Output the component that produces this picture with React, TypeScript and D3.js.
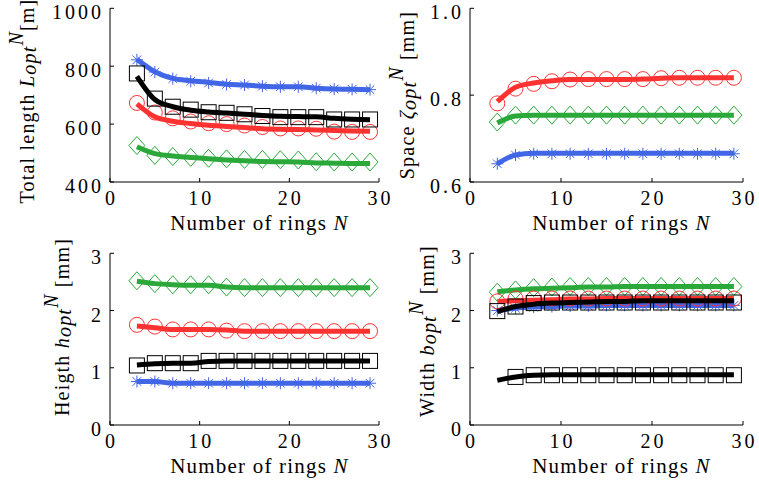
import React from 'react';
import * as d3 from 'd3';

// number of rings N at which the optimum was computed
const rings = [3, 5, 7, 9, 11, 13, 15, 17, 19, 21, 23, 25, 27, 29];

// total length L_opt^N [m]
const lenBlueLine = [824, 781, 758, 750, 744, 738, 735, 731, 729, 729, 724, 721, 720, 719];
const lenBlueMark = [822, 780, 757, 748, 742, 737, 735, 731, 729, 729, 724, 721, 720, 719];
const lenBlackLine = [765, 685, 660, 648, 642, 638, 634, 630, 627, 626, 625, 620, 617, 615];
const lenBlackMark = [775, 688, 660, 650, 641, 639, 634, 628, 624, 624, 624, 616, 616, 616];
const lenRedLine = [670, 625, 610, 602, 596, 592, 588, 584, 582, 581, 580, 578, 576, 575];
const lenRedMark = [673, 640, 620, 609, 603, 600, 595, 590, 585, 585, 584, 574, 573, 573];
const lenGreenLine = [522, 498, 490, 485, 480, 476, 473, 471, 470, 469, 466, 465, 464, 464];
const lenGreenMark = [526, 492, 488, 485, 482, 480, 478, 478, 477, 476, 470, 469, 469, 469];

// space zeta_opt^N [mm]
const spRedLine = [0.785, 0.818, 0.828, 0.833, 0.836, 0.836, 0.836, 0.836, 0.837, 0.839, 0.840, 0.840, 0.840, 0.840];
const spRedMark = [0.781, 0.815, 0.826, 0.832, 0.836, 0.837, 0.837, 0.837, 0.837, 0.839, 0.840, 0.840, 0.840, 0.840];
const spGreenLine = [0.736, 0.752, 0.754, 0.754, 0.754, 0.754, 0.754, 0.754, 0.754, 0.754, 0.754, 0.754, 0.754, 0.754];
const spGreenMark = [0.738, 0.754, 0.754, 0.754, 0.754, 0.754, 0.754, 0.754, 0.754, 0.754, 0.754, 0.754, 0.754, 0.754];
const spBlueLine = [0.642, 0.662, 0.666, 0.666, 0.666, 0.666, 0.666, 0.666, 0.666, 0.666, 0.666, 0.666, 0.666, 0.666];
const spBlueMark = [0.642, 0.662, 0.665, 0.665, 0.665, 0.665, 0.665, 0.665, 0.665, 0.665, 0.665, 0.665, 0.665, 0.665];

// height h_opt^N [mm]
const hGreenLine = [2.51, 2.47, 2.45, 2.44, 2.44, 2.41, 2.40, 2.40, 2.40, 2.40, 2.40, 2.40, 2.40, 2.40];
const hGreenMark = [2.52, 2.47, 2.45, 2.45, 2.45, 2.41, 2.40, 2.40, 2.40, 2.40, 2.40, 2.40, 2.40, 2.40];
const hRedLine = [1.73, 1.70, 1.67, 1.67, 1.67, 1.66, 1.64, 1.64, 1.64, 1.64, 1.64, 1.64, 1.64, 1.64];
const hRedMark = [1.75, 1.72, 1.67, 1.67, 1.67, 1.65, 1.64, 1.64, 1.64, 1.64, 1.64, 1.64, 1.64, 1.64];
const hBlackLine = [1.05, 1.07, 1.08, 1.08, 1.11, 1.12, 1.12, 1.12, 1.12, 1.12, 1.12, 1.12, 1.12, 1.12];
const hBlackMark = [1.04, 1.08, 1.08, 1.08, 1.12, 1.12, 1.12, 1.12, 1.12, 1.12, 1.12, 1.12, 1.12, 1.12];
const hBlueLine = [0.76, 0.76, 0.73, 0.73, 0.73, 0.73, 0.73, 0.73, 0.73, 0.73, 0.73, 0.73, 0.73, 0.73];
const hBlueMark = [0.76, 0.76, 0.73, 0.73, 0.73, 0.73, 0.73, 0.73, 0.73, 0.73, 0.73, 0.73, 0.73, 0.73];

// width b_opt^N [mm]
const wGreenLine = [2.33, 2.36, 2.38, 2.39, 2.40, 2.41, 2.41, 2.42, 2.42, 2.42, 2.42, 2.42, 2.42, 2.42];
const wGreenMark = [2.32, 2.36, 2.40, 2.41, 2.42, 2.42, 2.42, 2.42, 2.42, 2.42, 2.42, 2.42, 2.42, 2.42];
const wRedLine = [2.16, 2.17, 2.18, 2.19, 2.20, 2.20, 2.21, 2.21, 2.21, 2.21, 2.21, 2.21, 2.21, 2.21];
const wRedMark = [2.16, 2.21, 2.21, 2.21, 2.21, 2.21, 2.21, 2.21, 2.21, 2.21, 2.21, 2.21, 2.21, 2.21];
const wBlueLine = [2.00, 2.04, 2.06, 2.07, 2.08, 2.08, 2.09, 2.09, 2.09, 2.09, 2.09, 2.09, 2.09, 2.09];
const wBlueMark = [2.00, 2.04, 2.06, 2.07, 2.08, 2.08, 2.09, 2.09, 2.09, 2.09, 2.09, 2.09, 2.09, 2.09];
const wBlackLine = [1.98, 2.07, 2.11, 2.13, 2.14, 2.15, 2.16, 2.16, 2.17, 2.17, 2.17, 2.17, 2.17, 2.17];
const wBlackMark = [1.99, 2.07, 2.13, 2.14, 2.14, 2.14, 2.14, 2.14, 2.14, 2.14, 2.14, 2.14, 2.14, 2.14];
const wBlack2Line = [0.78, 0.84, 0.87, 0.88, 0.88, 0.88, 0.88, 0.88, 0.88, 0.88, 0.88, 0.88, 0.88, 0.88];
const wBlack2Mark = [null, 0.84, 0.87, 0.87, 0.87, 0.87, 0.87, 0.87, 0.87, 0.87, 0.87, 0.87, 0.87, 0.87];

const xTicks = [0, 10, 20, 30];

const BLUE = '#4166e6';
const RED = '#ff3232';
const GREEN = '#2aa83a';
const BLACK = '#000000';
const FONT = '"Liberation Serif", "Times New Roman", serif';

type Series = { color: string; marker: string; line: number[]; marks: (number | null)[] };

const Marker = ({ shape, x, y, color }) => {
  if (shape === 'square') {
    return <rect x={x - 7.5} y={y - 7.5} width={15} height={15} fill="none" stroke={color} strokeWidth={1} />;
  }
  if (shape === 'circle') {
    return <circle cx={x} cy={y} r={7.5} fill="none" stroke={color} strokeWidth={1} />;
  }
  if (shape === 'diamond') {
    return <path d={`M${x},${y - 9}L${x + 8},${y}L${x},${y + 9}L${x - 8},${y}Z`} fill="none" stroke={color} strokeWidth={1} />;
  }
  // asterisk
  const r = 6;
  const q = 4.3;
  return (
    <path
      d={`M${x - r},${y}H${x + r}M${x},${y - r}V${y + r}M${x - q},${y - q}L${x + q},${y + q}M${x - q},${y + q}L${x + q},${y - q}`}
      stroke={color}
      strokeWidth={1}
      fill="none"
    />
  );
};

const Panel = ({ left, right, top, bottom, domain, ticks, fmt, series, ylabel, ylabelX, ylabelY }) => {
  const x = d3.scaleLinear().domain([0, 30]).range([left, right]);
  const y = d3.scaleLinear().domain(domain).range([bottom, top]);
  const line = d3.line<number>()
    .x((d, i) => x(rings[i]))
    .y(d => y(d))
    .curve(d3.curveMonotoneX);
  const ls = 3;

  return (
    <g>
      {series.map((s: Series, k: number) => (
        <g key={k}>
          <path d={line(s.line) || ''} fill="none" stroke={s.color} strokeWidth={5} strokeLinejoin="round" />
          {s.marks.map((v, i) => v === null ? null : (
            <Marker key={i} shape={s.marker} x={x(rings[i])} y={y(v)} color={s.color} />
          ))}
        </g>
      ))}
      <line x1={left} x2={left} y1={top} y2={bottom} stroke="#000" strokeWidth={1} />
      <line x1={left} x2={right} y1={bottom} y2={bottom} stroke="#000" strokeWidth={1} />
      {ticks.map(t => (
        <g key={`y${t}`}>
          <line x1={left} x2={left + 4} y1={y(t)} y2={y(t)} stroke="#000" />
          <text x={left - 9 + ls} y={y(t) + 11} textAnchor="end" fontSize={20} letterSpacing={ls} fontFamily={FONT}>{fmt(t)}</text>
        </g>
      ))}
      {xTicks.map(t => (
        <g key={`x${t}`}>
          <line x1={x(t)} x2={x(t)} y1={bottom} y2={bottom - 4} stroke="#000" />
          <text x={x(t) + ls / 2} y={bottom + 23} textAnchor="middle" fontSize={20} letterSpacing={ls} fontFamily={FONT}>{t}</text>
        </g>
      ))}
      <text x={(left + right) / 2 + 15} y={bottom + 48} textAnchor="middle" fontSize={21} letterSpacing={1.2} fontFamily={FONT}>
        Number of rings <tspan fontStyle="italic">N</tspan>
      </text>
      <text transform={`translate(${ylabelX},${ylabelY}) rotate(-90)`} textAnchor="middle" fontSize={20} letterSpacing={1.2} fontFamily={FONT}>
        {ylabel[0]}
        <tspan fontStyle="italic">{ylabel[1]}</tspan>
        <tspan fontStyle="italic" dy={2}>opt</tspan>
        <tspan fontStyle="italic" dy={-13}>N</tspan>
        <tspan dy={11}>{ylabel[2]}</tspan>
      </text>
    </g>
  );
};

export default function App() {
  const lenSeries: Series[] = [
    { color: BLUE, marker: 'star', line: lenBlueLine, marks: lenBlueMark },
    { color: GREEN, marker: 'diamond', line: lenGreenLine, marks: lenGreenMark },
    { color: RED, marker: 'circle', line: lenRedLine, marks: lenRedMark },
    { color: BLACK, marker: 'square', line: lenBlackLine, marks: lenBlackMark },
  ];
  const spSeries: Series[] = [
    { color: BLUE, marker: 'star', line: spBlueLine, marks: spBlueMark },
    { color: GREEN, marker: 'diamond', line: spGreenLine, marks: spGreenMark },
    { color: RED, marker: 'circle', line: spRedLine, marks: spRedMark },
  ];
  const hSeries: Series[] = [
    { color: BLUE, marker: 'star', line: hBlueLine, marks: hBlueMark },
    { color: GREEN, marker: 'diamond', line: hGreenLine, marks: hGreenMark },
    { color: RED, marker: 'circle', line: hRedLine, marks: hRedMark },
    { color: BLACK, marker: 'square', line: hBlackLine, marks: hBlackMark },
  ];
  const wSeries: Series[] = [
    { color: BLUE, marker: 'star', line: wBlueLine, marks: wBlueMark },
    { color: GREEN, marker: 'diamond', line: wGreenLine, marks: wGreenMark },
    { color: RED, marker: 'circle', line: wRedLine, marks: wRedMark },
    { color: BLACK, marker: 'square', line: wBlackLine, marks: wBlackMark },
    { color: BLACK, marker: 'square', line: wBlack2Line, marks: wBlack2Mark },
  ];

  return (
    <svg width={759} height={490} style={{ position: 'absolute', left: 0, top: 0, background: '#fff' }}>
      <Panel left={110} right={379} top={8.3} bottom={182} domain={[400, 1000]} ticks={[400, 600, 800, 1000]}
        fmt={d => String(d)} series={lenSeries} ylabel={['Total length ', 'L', '[m]']} ylabelX={34} ylabelY={101} />
      <Panel left={470} right={743} top={8.3} bottom={182} domain={[0.6, 1.0]} ticks={[0.6, 0.8, 1.0]}
        fmt={d => d3.format('.1f')(d)} series={spSeries} ylabel={['Space ', 'ζ', ' [mm]']} ylabelX={414} ylabelY={95} />
      <Panel left={110} right={379} top={253.3} bottom={425} domain={[0, 3]} ticks={[0, 1, 2, 3]}
        fmt={d => String(d)} series={hSeries} ylabel={['Heigth ', 'h', ' [mm]']} ylabelX={69} ylabelY={327} />
      <Panel left={470} right={743} top={253.3} bottom={425} domain={[0, 3]} ticks={[0, 1, 2, 3]}
        fmt={d => String(d)} series={wSeries} ylabel={['Width ', 'b', ' [mm]']} ylabelX={434} ylabelY={331} />
    </svg>
  );
}
